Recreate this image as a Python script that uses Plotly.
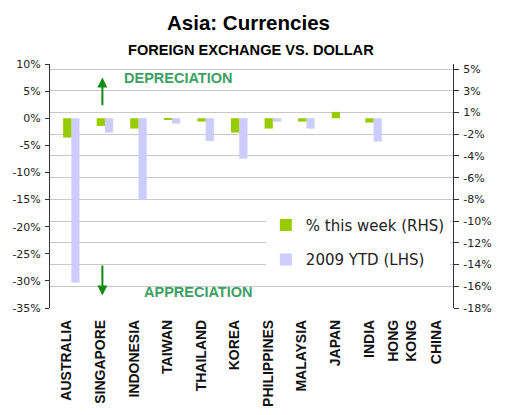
import plotly.graph_objects as go

categories = ["AUSTRALIA", "SINGAPORE", "INDONESIA", "TAIWAN", "THAILAND", "KOREA",
              "PHILIPPINES", "MALAYSIA", "JAPAN", "INDIA", "HONG<br>KONG", "CHINA"]
week_rhs = [-1.83, -0.73, -0.98, -0.16, -0.32, -1.36, -0.98, -0.32, 0.60, -0.41, 0.0, 0.0]
ytd_lhs = [-30.3, -2.65, -15.05, -1.0, -4.2, -7.45, -0.63, -1.92, 0.0, -4.3, 0.0, 0.0]

left_tickvals = [10, 5, 0, -5, -10, -15, -20, -25, -30, -35]
left_ticktext = ["10%", "5%", "0%", "-5%", "-10%", "-15%", "-20%", "-25%", "-30%", "-35%"]
right_tickvals = [4.66, 2.60, 0.54, -1.52, -3.58, -5.64, -7.70, -9.76, -11.82, -13.88, -15.94, -18.0]
right_ticktext = ["5%", "3%", "1%", "-2%", "-4%", "-6%", "-8%", "-10%", "-12%", "-14%", "-16%", "-18%"]

GREEN = "#99cc00"
LAV = "#ccccff"
TXTGREEN = "#3c9f63"
ARROW = "#138a13"

fig = go.Figure()
fig.add_trace(go.Bar(x=categories, y=week_rhs, name="% this week (RHS)", yaxis="y2",
                     marker=dict(color=GREEN, line=dict(width=0)), offset=-0.11, width=0.245,
                     legendgroup="a"))
fig.add_trace(go.Bar(x=categories, y=ytd_lhs, name="2009 YTD (LHS)", yaxis="y",
                     marker=dict(color=LAV, line=dict(width=0)), offset=0.135, width=0.245,
                     legendgroup="b"))

tickfont = dict(family="DejaVu Sans", size=11, color="#222")

fig.update_layout(
    width=509, height=415,
    margin=dict(l=50, r=55.7, t=64, b=106.7, autoexpand=False),
    paper_bgcolor="white", plot_bgcolor="white",
    barmode="overlay",
    showlegend=True,
    legend=dict(x=0.5356, xanchor="left", y=0.4065, yanchor="top",
                bgcolor="white", borderwidth=0,
                font=dict(family="DejaVu Sans", size=15, color="#222"),
                tracegroupgap=12, itemwidth=30),
    xaxis=dict(type="category", range=[-0.5, 11.5], showline=False, ticks="",
               showgrid=False, zeroline=False, tickangle=-90, ticklabelstandoff=8,
               automargin=False,
               tickfont=dict(family="Liberation Sans", size=14, color="#111", weight="bold")),
    xaxis2=dict(overlaying="x", anchor="free", position=35/45, range=[-0.5, 11.5],
                tickvals=[0.5, 1.5, 2.5, 3.5, 4.5, 5.5, 6.5, 7.5, 8.5, 9.5, 10.5],
                showticklabels=False, showline=True, linecolor="#111", linewidth=1.3,
                ticks="outside", ticklen=5, tickcolor="#111", tickwidth=1.3,
                showgrid=False, zeroline=False, automargin=False),
    yaxis=dict(range=[-35, 10], tickvals=left_tickvals, ticktext=left_ticktext,
               showgrid=False, zeroline=False, showline=True, linecolor="#333", linewidth=1,
               ticks="outside", ticklen=4, tickcolor="#333", tickfont=tickfont,
               ticklabelstandoff=2, automargin=False),
    yaxis2=dict(range=[-18, 18 / 3.5], overlaying="y", side="right",
                tickvals=right_tickvals, ticktext=right_ticktext,
                showgrid=True, gridcolor="#c8c8c8", gridwidth=1, zeroline=False,
                showline=True, linecolor="#333", linewidth=1,
                ticks="outside", ticklen=5, tickcolor="#333", tickfont=tickfont,
                ticklabelstandoff=2, automargin=False),
    annotations=[
        dict(text="<b>Asia: Currencies</b>", xref="paper", yref="paper", x=0.493, y=1.172,
             xanchor="center", yanchor="middle", showarrow=False,
             font=dict(family="Liberation Sans", size=20.5, color="#000")),
        dict(text="<b>FOREIGN EXCHANGE VS. DOLLAR</b>", xref="paper", yref="paper", x=0.498, y=1.057,
             xanchor="center", yanchor="middle", showarrow=False,
             font=dict(family="Liberation Sans", size=14.6, color="#000")),
        dict(text="<b>DEPRECIATION</b>", xref="x", yref="y", x=3.32, y=7.4,
             xanchor="center", yanchor="middle", showarrow=False,
             font=dict(family="Liberation Sans", size=14.5, color=TXTGREEN)),
        dict(text="<b>APPRECIATION</b>", xref="x", yref="y", x=3.93, y=-32.0,
             xanchor="center", yanchor="middle", showarrow=False,
             font=dict(family="Liberation Sans", size=14.5, color=TXTGREEN)),
        dict(text="", xref="x", yref="y", x=1.06, y=7.5, axref="x", ayref="y", ax=1.06, ay=2.1,
             showarrow=True, arrowhead=2, arrowsize=1, arrowwidth=2, arrowcolor=ARROW),
        dict(text="", xref="x", yref="y", x=1.06, y=-32.7, axref="x", ayref="y", ax=1.06, ay=-26.9,
             showarrow=True, arrowhead=2, arrowsize=1, arrowwidth=2, arrowcolor=ARROW),
    ],
)

fig.write_html("out.html", config={"displayModeBar": False},
               post_script="document.body.style.margin='0';")
